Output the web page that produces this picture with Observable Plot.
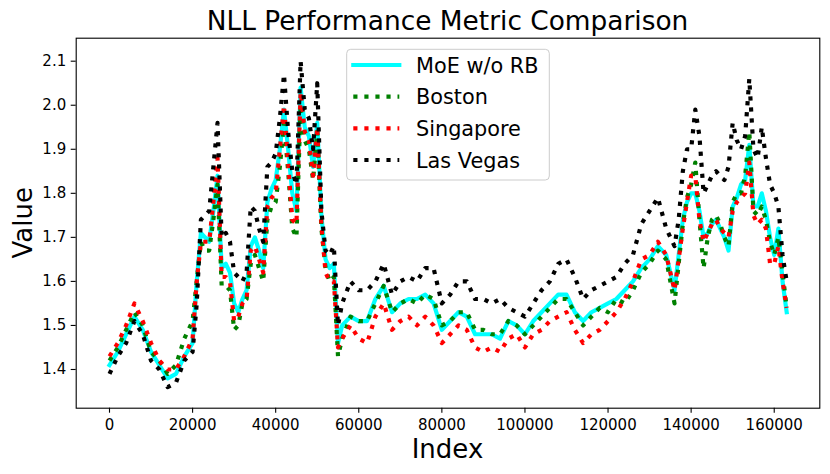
<!DOCTYPE html>
<html>
<head>
<meta charset="utf-8">
<script src="https://cdn.jsdelivr.net/npm/d3@7"></script>
<script src="https://cdn.jsdelivr.net/npm/@observablehq/plot@0.6"></script>
<style>
  html, body { margin: 0; padding: 0; background: white; }
  #chart { position: relative; width: 830px; height: 474px; }
</style>
</head>
<body>
<div id="chart"></div>
<script>
const indices = [
  0,2000,4000,6000,8000,10000,12000,14000,16000,18000,
  20000,21000,22000,23000,24000,25000,26000,27000,28000,29000,30000,31000,32000,33000,34000,35000,36000,37000,38000,39000,
  40000,41000,42000,43000,44000,45000,46000,47000,48000,49000,50000,51000,52000,53000,54000,55000,56000,
  58000,60000,62000,64000,66000,68000,70000,72000,74000,76000,78000,
  80000,82000,84000,86000,88000,90000,92000,94000,96000,98000,
  100000,102000,104000,106000,108000,110000,112000,114000,116000,118000,
  120000,122000,124000,126000,128000,130000,132000,134000,
  136000,137000,138000,139000,140000,141000,142000,143000,144000,145000,146000,147000,148000,149000,
  150000,151000,152000,153000,154000,155000,156000,157000,158000,159000,160000,161000,162000,163000];

const moe = [
  1.41,1.44,1.48,1.52,1.49,1.44,1.41,1.38,1.39,1.43,
  1.46,1.60,1.71,1.70,1.69,1.76,1.84,1.63,1.64,1.62,1.55,1.53,1.56,1.58,1.68,1.70,1.67,1.63,1.78,1.81,
  1.83,1.90,1.99,1.90,1.80,1.76,2.04,1.95,1.93,1.86,1.96,1.75,1.65,1.63,1.64,1.46,1.50,
  1.52,1.51,1.51,1.56,1.59,1.53,1.55,1.56,1.56,1.57,1.55,
  1.49,1.51,1.53,1.52,1.48,1.48,1.48,1.47,1.51,1.50,
  1.48,1.51,1.53,1.55,1.57,1.57,1.53,1.51,1.53,1.54,
  1.55,1.56,1.58,1.60,1.63,1.65,1.68,1.66,
  1.58,1.66,1.74,1.78,1.80,1.80,1.76,1.70,1.71,1.73,1.74,1.72,1.70,1.67,
  1.77,1.79,1.82,1.83,1.91,1.77,1.77,1.80,1.76,1.70,1.66,1.72,1.60,1.53];

const boston = [
  1.42,1.45,1.49,1.53,1.50,1.44,1.42,1.39,1.41,1.47,
  1.51,1.60,1.69,1.67,1.67,1.74,1.82,1.59,1.59,1.58,1.49,1.50,1.55,1.56,1.64,1.66,1.63,1.60,1.74,1.77,
  1.78,1.86,1.96,1.85,1.72,1.70,2.00,1.92,1.90,1.83,1.94,1.72,1.63,1.60,1.61,1.43,1.47,
  1.52,1.51,1.51,1.55,1.59,1.53,1.55,1.56,1.55,1.57,1.56,
  1.50,1.51,1.53,1.53,1.49,1.49,1.48,1.48,1.51,1.50,
  1.48,1.50,1.52,1.54,1.56,1.56,1.53,1.50,1.52,1.54,
  1.53,1.56,1.55,1.58,1.62,1.64,1.67,1.65,
  1.55,1.64,1.73,1.79,1.82,1.87,1.74,1.63,1.70,1.74,1.75,1.73,1.70,1.68,
  1.78,1.80,1.80,1.84,1.94,1.76,1.75,1.77,1.74,1.69,1.66,1.70,1.62,1.54];

const singapore = [
  1.43,1.46,1.50,1.55,1.51,1.46,1.42,1.40,1.40,1.43,
  1.47,1.60,1.69,1.69,1.69,1.78,1.88,1.61,1.61,1.60,1.51,1.52,1.55,1.56,1.67,1.68,1.65,1.62,1.77,1.79,
  1.80,1.90,2.00,1.87,1.74,1.73,2.03,1.94,1.92,1.84,1.95,1.73,1.62,1.60,1.60,1.45,1.47,
  1.50,1.47,1.46,1.52,1.55,1.49,1.51,1.52,1.50,1.52,1.50,
  1.46,1.48,1.50,1.49,1.45,1.44,1.45,1.44,1.47,1.48,
  1.45,1.48,1.49,1.51,1.52,1.53,1.49,1.46,1.48,1.49,
  1.51,1.53,1.56,1.60,1.65,1.66,1.69,1.66,
  1.58,1.65,1.72,1.78,1.84,1.84,1.74,1.69,1.71,1.73,1.74,1.72,1.71,1.70,
  1.76,1.78,1.79,1.80,1.87,1.75,1.73,1.74,1.72,1.64,1.64,1.68,1.60,1.54];

const lasVegas = [
  1.39,1.43,1.46,1.51,1.48,1.42,1.40,1.36,1.37,1.42,
  1.44,1.55,1.74,1.75,1.76,1.86,1.96,1.70,1.71,1.69,1.62,1.61,1.60,1.62,1.77,1.76,1.72,1.69,1.86,1.87,
  1.89,1.97,2.07,1.94,1.85,1.82,2.10,1.99,1.97,1.90,2.05,1.76,1.67,1.66,1.68,1.50,1.55,
  1.60,1.58,1.58,1.60,1.64,1.57,1.60,1.61,1.60,1.63,1.63,
  1.55,1.57,1.60,1.60,1.56,1.56,1.55,1.56,1.54,1.53,
  1.52,1.55,1.58,1.60,1.64,1.65,1.61,1.56,1.58,1.59,
  1.60,1.61,1.64,1.66,1.73,1.76,1.79,1.72,
  1.68,1.74,1.85,1.90,1.90,1.99,1.93,1.80,1.82,1.84,1.85,1.84,1.83,1.86,
  1.96,1.92,1.90,1.93,2.06,1.90,1.88,1.95,1.88,1.82,1.80,1.77,1.66,1.60];

const seriesNames = ["MoE w/o RB", "Boston", "Singapore", "Las Vegas"];
const seriesColors = ["#00ffff", "#008000", "#ff0000", "#000000"];
const seriesDashed = [false, true, true, true];
const xTicks = [0,20000,40000,60000,80000,100000,120000,140000,160000];
const yTicks = [1.4,1.5,1.6,1.7,1.8,1.9,2.0,2.1];

const seriesValues = [moe, boston, singapore, lasVegas];
const table = seriesNames.map((name, s) =>
  indices.map((idx, i) => ({series: name, index: idx, value: seriesValues[s][i]})));

const LW = 4.17;
const dash = `${LW},${(LW*1.65).toFixed(2)}`;
const lineMarks = table.map((rows, s) => Plot.line(rows, {
  x: "index", y: "value",
  stroke: seriesColors[s],
  strokeWidth: LW,
  strokeDasharray: seriesDashed[s] ? dash : null,
  strokeLinecap: seriesDashed[s] ? "butt" : "square",
  strokeLinejoin: "round"
}));

const chart = Plot.plot({
  width: 830,
  height: 474,
  marginLeft: 75.7,
  marginRight: 10.7,
  marginTop: 37.7,
  marginBottom: 66.3,
  style: {fontFamily: "DejaVu Sans", fontSize: "15px", color: "black", background: "white"},
  x: {domain: [-8015, 170970]},
  y: {domain: [1.3121, 2.1522]},
  marks: [
    ...lineMarks,
    Plot.frame({stroke: "black", strokeWidth: 1.1}),
    Plot.axisX({ticks: xTicks, tickFormat: d => String(d), tickSize: 5, tickPadding: 6, label: null, fontSize: 15, strokeWidth: 1.1}),
    Plot.axisY({ticks: yTicks, tickFormat: d3.format(".1f"), tickSize: 5, tickPadding: 5, label: null, fontSize: 15, strokeWidth: 1.1})
  ]
});

const svg = d3.select(chart);
svg.append("text")
  .attr("x", 447.5).attr("y", 30)
  .attr("text-anchor", "middle")
  .attr("font-family", "DejaVu Sans").attr("font-size", 26.4).attr("fill", "black")
  .text("NLL Performance Metric Comparison");
svg.append("text")
  .attr("x", 447.5).attr("y", 458.3)
  .attr("text-anchor", "middle")
  .attr("font-family", "DejaVu Sans").attr("font-size", 26).attr("fill", "black")
  .text("Index");
svg.append("text")
  .attr("transform", "translate(31.5,222.7) rotate(-90)")
  .attr("text-anchor", "middle")
  .attr("font-family", "DejaVu Sans").attr("font-size", 26).attr("fill", "black")
  .text("Value");

// legend
const lg = svg.append("g");
lg.append("rect")
  .attr("x", 346.7).attr("y", 49.3).attr("width", 202.6).attr("height", 130.7)
  .attr("rx", 4).attr("fill", "white").attr("fill-opacity", 0.8)
  .attr("stroke", "#cccccc").attr("stroke-width", 1);
seriesNames.forEach((name, s) => {
  const cy = 65 + s * 31.67;
  lg.append("line")
    .attr("x1", 353.3).attr("x2", 399.3).attr("y1", cy).attr("y2", cy)
    .attr("stroke", seriesColors[s]).attr("stroke-width", LW)
    .attr("stroke-dasharray", seriesDashed[s] ? dash : null)
    .attr("stroke-linecap", seriesDashed[s] ? "butt" : "square");
  lg.append("text")
    .attr("x", 416).attr("y", cy + 7.8)
    .attr("text-anchor", "start")
    .attr("font-family", "DejaVu Sans").attr("font-size", 20.8).attr("fill", "black")
    .text(name);
});

document.getElementById("chart").appendChild(chart);
</script>
</body>
</html>
